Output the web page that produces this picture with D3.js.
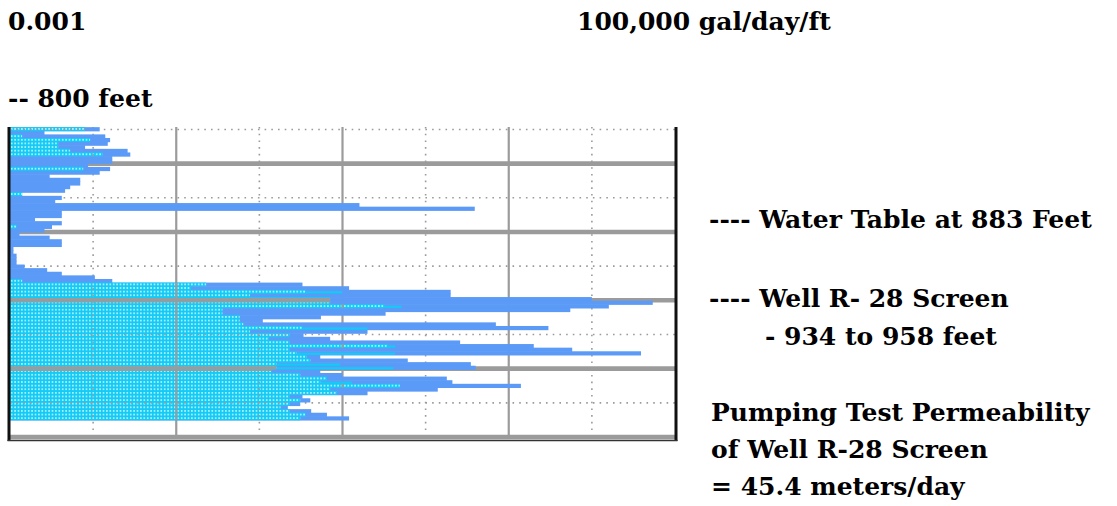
<!DOCTYPE html>
<html><head><meta charset="utf-8">
<script src="https://cdn.jsdelivr.net/npm/d3@7"></script>
<style>html,body{margin:0;padding:0;background:#fff;} svg{display:block;}</style>
</head><body><svg id="c" width="1117" height="506"></svg>
<script>
// ---------------- data ----------------
// top depth (feet) of each logged interval
const depthTop = [821.00,823.38,825.76,828.14,830.52,832.90,835.28,837.66,840.04,842.42,
844.80,847.18,849.56,851.94,854.32,856.70,859.08,861.46,863.84,866.22,
868.60,870.98,873.36,875.74,878.12,880.50,882.88,885.26,887.64,890.02,
892.40,894.78,897.16,899.54,901.92,904.30,906.68,909.06,911.44,913.82,
916.20,918.58,920.96,923.34,925.72,928.10,930.48,932.86,935.24,937.62,
940.00,942.38,944.76,947.14,949.52,951.90,954.28,956.66,959.04,961.42,
963.80,966.18,968.56,970.94,973.32,975.70,978.08,980.46,982.84,985.22,
987.60,989.98,992.36,994.74,997.12,999.50,1001.88,1004.26,1006.64,1009.02,1011.40];
const intervalFeet = 2.38;
// permeability, gal/day/ft (blue series)
const bluePerm = [0.012,0.0026,0.014,0.016,0.015,0.0080,0.026,0.028,0.017,0.017,
0.0087,0.016,0.012,0.0030,0.0070,0.0070,0.0053,0.0046,0.0014,0.0042,
0.0035,16,390,0.0042,0.0042,0.0020,0.0042,0.0032,0.0026,0.0013,
0.0030,0.0042,0.0042,0.0011,0.0011,0.0012,0.0012,0.0012,0.0015,0.0028,
0.0042,0.0105,0.017,3.3,12,200,200,10000,54000,16000,
5500,33,5.5,1.1,700,3000,20,3.4,7.1,260,
2000,5800,39000,5.4,61,350,400,5.4,10,180,
210,1400,140,20,3.3,4.1,3.1,2.2,4.2,6.5,12];
// permeability, gal/day/ft (cyan dotted series), null = no value
const cyanPerm = [0.0080,null,0.0014,0.0092,0.0038,0.0038,0.0053,0.013,null,null,
null,0.0076,null,null,null,null,null,null,0.0014,null,
null,null,null,null,null,null,null,0.0012,null,null,
null,null,null,null,null,null,null,null,null,null,
null,null,0.0014,0.23,0.15,3.6,0.77,7.1,7.1,32,
0.36,0.36,0.58,0.58,0.64,3.3,0.77,2.3,1.3,2.3,
35,2.3,2.8,3.7,4.1,1.6,1.6,1.4,3.1,6.5,
5.4,49,7.1,8.6,2.3,3.1,2.3,1.8,2.3,3.6,3.1];
// solid cyan tail end where the cyan trace continues without dots, null = none
const cyanTailPerm = [null,null,null,null,null,null,null,null,null,null,
null,null,null,null,null,null,null,null,null,null,
null,null,null,null,null,null,null,null,null,null,
null,null,null,null,null,null,null,null,null,null,
null,null,null,null,null,9.9,null,null,null,51,
null,null,null,null,null,20,null,null,null,null,
43,null,43,null,null,9.3,41,null,null,null,
13,null,null,null,null,null,null,null,null,null,null];
const solidTicks = [0.1, 10, 1000];
const dottedTicks = [0.01, 1, 100, 10000];
const majorDepths = [845, 890, 935, 980, 1025];
const minorDepths = [822.5, 867.5, 912.5, 957.5, 1002.5];
const leftTexts = ["0.001", "-- 800 feet"];
const topRightText = "100,000 gal/day/ft";
const noteTexts = ["---- Water Table at 883 Feet", "---- Well R- 28 Screen", "- 934 to 958 feet",
  "Pumping Test Permeability", "of Well R-28 Screen", "= 45.4 meters/day"];

// ---------------- drawing ----------------
const BLUE = "#5b9bf7", CYAN = "#12ccf6", GRID = "#9b9b9b";
const svg = d3.select("#c");
svg.append("rect").attr("width",1117).attr("height",506).attr("fill","#fff");

const x = d3.scaleLog().domain([0.001, 100000]).range([10, 675]);
const y = d3.scaleLinear().domain([800, 1025]).range([95.25, 437]);
const rowH = y(800 + intervalFeet) - y(800);
const plotTop = 127, plotBottom = 437;

const defs = svg.append("defs");
defs.append("clipPath").attr("id","plotClip").append("rect")
  .attr("x", 10).attr("y", plotTop).attr("width", 665).attr("height", plotBottom + 3 - plotTop);
const pat = defs.append("pattern").attr("id","dots").attr("patternUnits","userSpaceOnUse")
  .attr("x", 10).attr("y", y(depthTop[0])).attr("width", 3.4).attr("height", rowH);
pat.append("rect").attr("width", 3.4).attr("height", rowH).attr("fill", CYAN);
pat.append("rect").attr("x", 1).attr("y", 1.1).attr("width", 1.4).attr("height", 1.4).attr("fill", "#fff");

const rows = depthTop.map((d,i) => ({d, b: bluePerm[i], c: cyanPerm[i], t: cyanTailPerm[i]}));
const cyanRows = rows.filter(r => r.c != null);
const tailRows = rows.filter(r => r.t != null && r.c != null);
const cyanClip = defs.append("clipPath").attr("id","cyanClip");
cyanClip.selectAll("rect").data(cyanRows).join("rect")
  .attr("x", x(0.001)).attr("y", r => y(r.d)).attr("width", r => x(r.c) - x(0.001)).attr("height", rowH);

const plot = svg.append("g").attr("clip-path","url(#plotClip)");

function drawGrid(g) {
  g.selectAll(".vdot").data(dottedTicks).join("line").attr("class","vdot")
    .attr("x1", d => x(d)).attr("x2", d => x(d)).attr("y1", plotTop).attr("y2", plotBottom)
    .attr("stroke", GRID).attr("stroke-width", 1.6).attr("stroke-dasharray","1.6,5.1");
  g.selectAll(".hdot").data(minorDepths).join("line").attr("class","hdot")
    .attr("x1", 10).attr("x2", 675).attr("y1", d => y(d)).attr("y2", d => y(d))
    .attr("stroke", GRID).attr("stroke-width", 1.6).attr("stroke-dasharray","1.6,5.1");
  g.selectAll(".vsol").data(solidTicks).join("line").attr("class","vsol")
    .attr("x1", d => x(d)).attr("x2", d => x(d)).attr("y1", plotTop).attr("y2", plotBottom)
    .attr("stroke", GRID).attr("stroke-width", 2.2);
  g.selectAll(".hmaj").data(majorDepths).join("line").attr("class","hmaj")
    .attr("x1", 10).attr("x2", 675).attr("y1", d => y(d)).attr("y2", d => y(d))
    .attr("stroke", GRID).attr("stroke-width", 4.6);
}
drawGrid(plot.append("g"));

plot.append("g").selectAll("rect").data(rows).join("rect")
  .attr("x", x(0.001)).attr("y", r => y(r.d)).attr("width", r => x(r.b) - x(0.001))
  .attr("height", rowH + 0.6).attr("fill", BLUE);

plot.append("g").selectAll("rect").data(tailRows).join("rect")
  .attr("x", r => x(r.c)).attr("y", r => y(r.d) + rowH * 0.4).attr("width", r => x(r.t) - x(r.c))
  .attr("height", rowH * 0.6).attr("fill", CYAN);

plot.append("g").selectAll("rect").data(cyanRows).join("rect")
  .attr("x", x(0.001)).attr("y", r => y(r.d)).attr("width", r => x(r.c) - x(0.001))
  .attr("height", rowH + 0.3).attr("fill", "url(#dots)");

drawGrid(plot.append("g").attr("clip-path","url(#cyanClip)"));

// frame
svg.append("line").attr("x1", 9).attr("x2", 9).attr("y1", plotTop).attr("y2", 441)
  .attr("stroke", "#111").attr("stroke-width", 3);
svg.append("line").attr("x1", 676).attr("x2", 676).attr("y1", plotTop).attr("y2", 441)
  .attr("stroke", "#111").attr("stroke-width", 3);
svg.append("line").attr("x1", 7.5).attr("x2", 677.5).attr("y1", 440.5).attr("y2", 440.5)
  .attr("stroke", "#333").attr("stroke-width", 1.5);

// texts
const font = "'DejaVu Serif', serif";
function txt(s, tx, ty) {
  svg.append("text").attr("x", tx).attr("y", ty).text(s)
    .attr("font-family", font).attr("font-weight", "bold").attr("font-size", 25).attr("fill", "#000");
}
txt(leftTexts[0], 8, 30);
txt(topRightText, 577, 30);
txt(leftTexts[1], 8, 107);
txt(noteTexts[0], 709, 228);
txt(noteTexts[1], 709, 307);
txt(noteTexts[2], 765, 345);
txt(noteTexts[3], 711, 421);
txt(noteTexts[4], 711, 458);
txt(noteTexts[5], 711, 495);
</script></body></html>
